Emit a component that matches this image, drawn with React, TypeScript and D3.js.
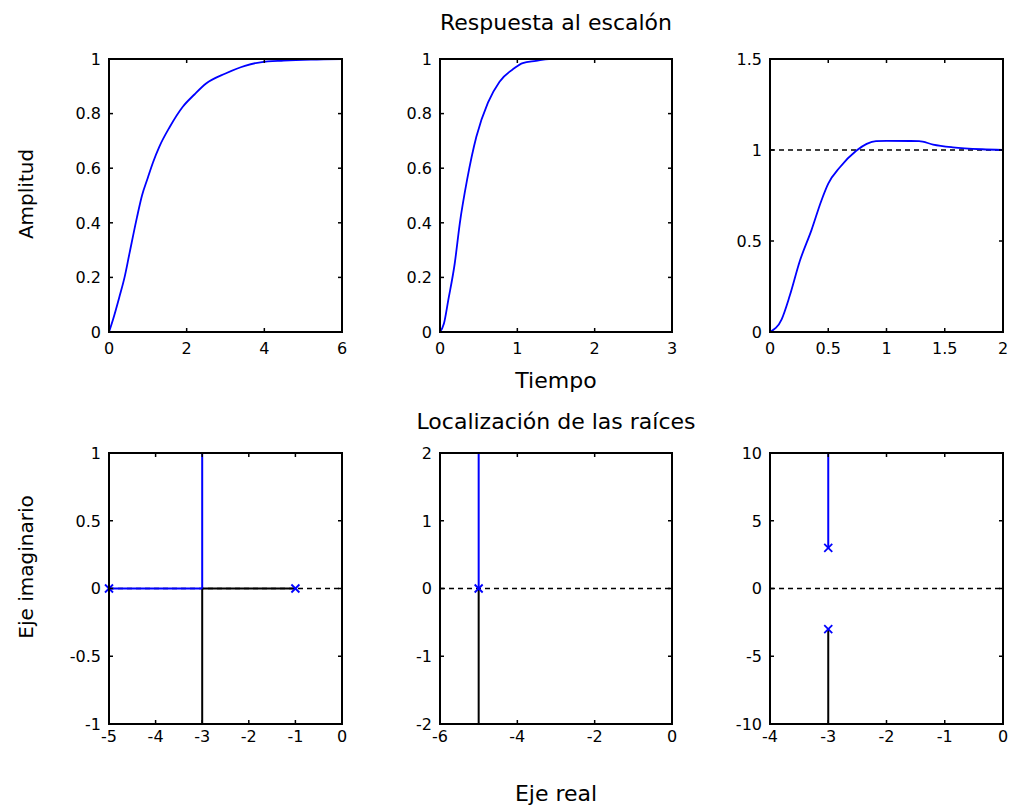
import React from "react";
import * as d3 from "d3";

// ---- Data ----
// Step responses (Respuesta al escalón)
const step1T = [0, 0.1, 0.27, 0.4, 0.53, 0.72, 0.85, 1.0, 1.13, 1.3, 1.56, 1.9, 2.2, 2.5, 3.0, 3.5, 3.9, 4.5, 5.2, 6];
const step1Y = [0, 0.044, 0.13, 0.2, 0.29, 0.42, 0.5, 0.565, 0.62, 0.68, 0.75, 0.825, 0.87, 0.91, 0.947, 0.975, 0.988, 0.994, 0.998, 1];
const step2T = [0, 0.05, 0.107, 0.19, 0.257, 0.35, 0.47, 0.62, 0.77, 0.96, 1.07, 1.24, 1.41, 3];
const step2Y = [0, 0.03, 0.117, 0.25, 0.4, 0.557, 0.715, 0.84, 0.917, 0.966, 0.985, 0.993, 1.0, 1.0];
const step3T = [0, 0.1, 0.17, 0.256, 0.356, 0.44, 0.5, 0.6, 0.74, 0.83, 0.91, 1.0, 1.28, 1.4, 1.57, 1.82, 2];
const step3Y = [0, 0.07, 0.2, 0.39, 0.56, 0.72, 0.815, 0.905, 0.996, 1.034, 1.049, 1.05, 1.049, 1.03, 1.015, 1.004, 1.0];

const step1XTicks = [0, 2, 4, 6];
const step1YTicks = [0, 0.2, 0.4, 0.6, 0.8, 1];
const step2XTicks = [0, 1, 2, 3];
const step2YTicks = [0, 0.2, 0.4, 0.6, 0.8, 1];
const step3XTicks = [0, 0.5, 1, 1.5, 2];
const step3YTicks = [0, 0.5, 1, 1.5];
const step3Reference = [[0, 1], [2, 1]];

// Root loci (Localización de las raíces)
const rl1Blue = [[[-5, 0], [-3, 0]], [[-3, 0], [-3, 1]]];
const rl1Black = [[[-1, 0], [-3, 0]], [[-3, 0], [-3, -1]]];
const rl1Poles = [[-5, 0], [-1, 0]];
const rl1XTicks = [-5, -4, -3, -2, -1, 0];
const rl1YTicks = [-1, -0.5, 0, 0.5, 1];

const rl2Blue = [[[-5, 0], [-5, 2]]];
const rl2Black = [[[-5, 0], [-5, -2]]];
const rl2Poles = [[-5, 0]];
const rl2XTicks = [-6, -4, -2, 0];
const rl2YTicks = [-2, -1, 0, 1, 2];

const rl3Blue = [[[-3, 3], [-3, 10]]];
const rl3Black = [[[-3, -3], [-3, -10]]];
const rl3Poles = [[-3, 3], [-3, -3]];
const rl3XTicks = [-4, -3, -2, -1, 0];
const rl3YTicks = [-10, -5, 0, 5, 10];

const FONT = "'DejaVu Sans', Verdana, sans-serif";
const BLUE = "#0000ff";

type Panel = {
  x0: number; x1: number; y0: number; y1: number;
  xd: [number, number]; yd: [number, number];
  xt: number[]; yt: number[];
  labelGap: number;
  children: (x: d3.ScaleLinear<number, number>, y: d3.ScaleLinear<number, number>) => React.ReactNode;
};

function Axes({ x0, x1, y0, y1, xd, yd, xt, yt, labelGap, children }: Panel) {
  const x = d3.scaleLinear().domain(xd).range([x0, x1]);
  const y = d3.scaleLinear().domain(yd).range([y1, y0]);
  const tl = 4;
  return (
    <g>
      <g>{children(x, y)}</g>
      {xt.map((v, i) => (
        <g key={"xt" + i}>
          <line x1={x(v)} x2={x(v)} y1={y1} y2={y1 - tl} stroke="#000" strokeWidth={1.5} />
          <line x1={x(v)} x2={x(v)} y1={y0} y2={y0 + tl} stroke="#000" strokeWidth={1.5} />
          <text x={x(v)} y={y1 + labelGap} textAnchor="middle" fontSize={16} fontFamily={FONT}>{String(v)}</text>
        </g>
      ))}
      {yt.map((v, i) => (
        <g key={"yt" + i}>
          <line x1={x0} x2={x0 + tl} y1={y(v)} y2={y(v)} stroke="#000" strokeWidth={1.5} />
          <line x1={x1} x2={x1 - tl} y1={y(v)} y2={y(v)} stroke="#000" strokeWidth={1.5} />
          <text x={x0 - 8} y={y(v)} dy="0.36em" textAnchor="end" fontSize={16} fontFamily={FONT}>{String(v)}</text>
        </g>
      ))}
      <rect x={x0} y={y0} width={x1 - x0} height={y1 - y0} fill="none" stroke="#000" strokeWidth={2} />
    </g>
  );
}

function stepPath(ts: number[], ys: number[], x: any, y: any) {
  const pts = ts.map((t, i) => [t, ys[i]] as [number, number]);
  return d3.line<[number, number]>().x(d => x(d[0])).y(d => y(d[1])).curve(d3.curveMonotoneX)(pts) || "";
}

function Locus(blue: number[][][], black: number[][][], poles: number[][], xd: [number, number]) {
  return (x: any, y: any) => {
    const seg = d3.line<number[]>().x(d => x(d[0])).y(d => y(d[1]));
    return (
      <g>
        <line x1={x(xd[0])} x2={x(xd[1])} y1={y(0)} y2={y(0)} stroke="#000" strokeWidth={1.6} strokeDasharray="5,4" />
        {black.map((s, i) => <path key={"k" + i} d={seg(s) || ""} stroke="#000" strokeWidth={2} fill="none" />)}
        {blue.map((s, i) => <path key={"b" + i} d={seg(s) || ""} stroke={BLUE} strokeWidth={2} fill="none" />)}
        {poles.map((p, i) => {
          const cx = x(p[0]), cy = y(p[1]), r = 4;
          return (
            <g key={"p" + i} stroke={BLUE} strokeWidth={1.8}>
              <line x1={cx - r} x2={cx + r} y1={cy - r} y2={cy + r} />
              <line x1={cx - r} x2={cx + r} y1={cy + r} y2={cy - r} />
            </g>
          );
        })}
      </g>
    );
  };
}

const cols: [number, number][] = [[109, 342], [440, 672], [770, 1003]];
const topRow: [number, number] = [59, 332];
const botRow: [number, number] = [453, 724];

export default function App() {
  const stepData = [
    { t: step1T, y: step1Y, xt: step1XTicks, yt: step1YTicks, yd: [0, 1] as [number, number], ref: false },
    { t: step2T, y: step2Y, xt: step2XTicks, yt: step2YTicks, yd: [0, 1] as [number, number], ref: false },
    { t: step3T, y: step3Y, xt: step3XTicks, yt: step3YTicks, yd: [0, 1.5] as [number, number], ref: true },
  ];
  const locusData = [
    { xd: [-5, 0] as [number, number], yd: [-1, 1] as [number, number], xt: rl1XTicks, yt: rl1YTicks, blue: rl1Blue, black: rl1Black, poles: rl1Poles },
    { xd: [-6, 0] as [number, number], yd: [-2, 2] as [number, number], xt: rl2XTicks, yt: rl2YTicks, blue: rl2Blue, black: rl2Black, poles: rl2Poles },
    { xd: [-4, 0] as [number, number], yd: [-10, 10] as [number, number], xt: rl3XTicks, yt: rl3YTicks, blue: rl3Blue, black: rl3Black, poles: rl3Poles },
  ];
  return (
    <svg width={1014} height={811} style={{ position: "absolute", left: 0, top: 0, background: "#fff" }}>
      <rect x={0} y={0} width={1014} height={811} fill="#fff" />
      {stepData.map((s, i) => {
        const xd: [number, number] = [s.xt[0], s.xt[s.xt.length - 1]];
        return (
          <Axes key={"s" + i} x0={cols[i][0]} x1={cols[i][1]} y0={topRow[0]} y1={topRow[1]}
            xd={xd} yd={s.yd} xt={s.xt} yt={s.yt} labelGap={22}>
            {(x, y) => (
              <g>
                {s.ref && (
                  <line x1={x(step3Reference[0][0])} x2={x(step3Reference[1][0])} y1={y(step3Reference[0][1])} y2={y(step3Reference[1][1])}
                    stroke="#000" strokeWidth={1.6} strokeDasharray="5,4" />
                )}
                <path d={stepPath(s.t, s.y, x, y)} fill="none" stroke={BLUE} strokeWidth={1.8} />
              </g>
            )}
          </Axes>
        );
      })}
      {locusData.map((l, i) => (
        <Axes key={"l" + i} x0={cols[i][0]} x1={cols[i][1]} y0={botRow[0]} y1={botRow[1]}
          xd={l.xd} yd={l.yd} xt={l.xt} yt={l.yt} labelGap={18}>
          {Locus(l.blue, l.black, l.poles, l.xd)}
        </Axes>
      ))}
      <text x={556} y={30} textAnchor="middle" fontSize={22} fontFamily={FONT}>Respuesta al escalón</text>
      <text x={556} y={388} textAnchor="middle" fontSize={22} fontFamily={FONT}>Tiempo</text>
      <text x={556} y={429} textAnchor="middle" fontSize={22} fontFamily={FONT}>Localización de las raíces</text>
      <text x={556} y={801} textAnchor="middle" fontSize={22} fontFamily={FONT}>Eje real</text>
      <text transform="translate(33,194) rotate(-90)" textAnchor="middle" fontSize={20} fontFamily={FONT}>Amplitud</text>
      <text transform="translate(33,567) rotate(-90)" textAnchor="middle" fontSize={20} fontFamily={FONT}>Eje imaginario</text>
    </svg>
  );
}
